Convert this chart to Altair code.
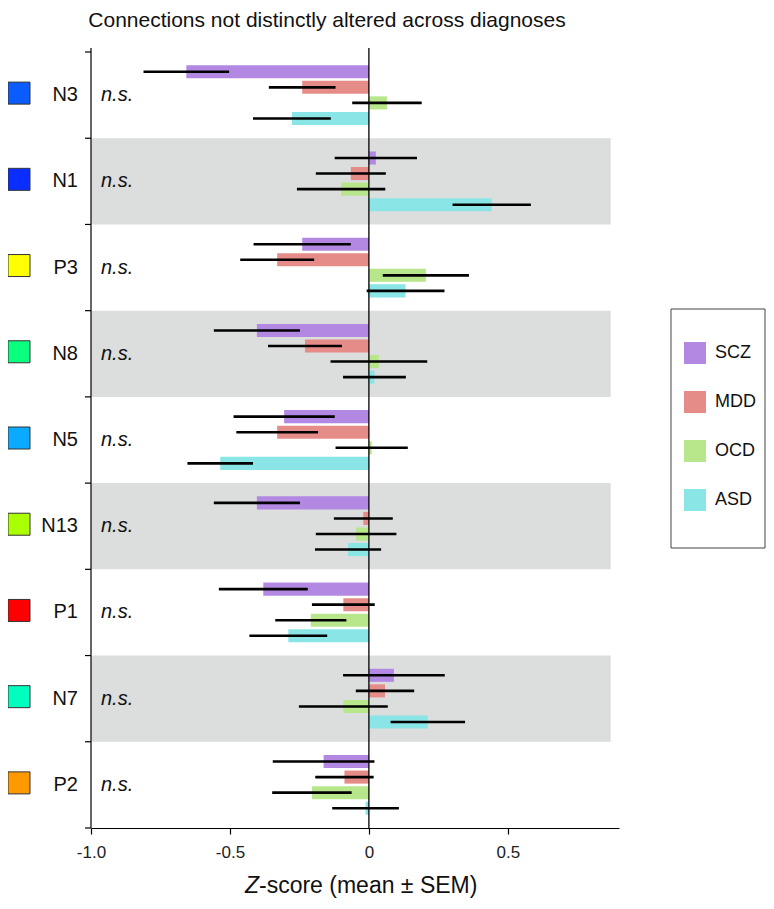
import altair as alt
import pandas as pd

# ---------------- data ----------------
groups = ["N3", "N1", "P3", "N8", "N5", "N13", "P1", "N7", "P2"]
group_colors = ["#0A5CFF", "#0A2EFF", "#FFFF00", "#0AFF80", "#0AAAFF",
                "#AAFF00", "#FF0000", "#00FFBF", "#FF9900"]
shaded = [False, True, False, True, False, True, False, True, False]
sig_labels = ["n.s."] * 9

diags = ["SCZ", "MDD", "OCD", "ASD"]
diag_colors = ["#B388E3", "#E68C88", "#B8E68A", "#8AE6E6"]

scz_mean = [-0.657, 0.025, -0.240, -0.403, -0.305, -0.403, -0.380, 0.090, -0.163]
mdd_mean = [-0.240, -0.065, -0.330, -0.230, -0.330, -0.020, -0.092, 0.058, -0.088]
ocd_mean = [0.065, -0.100, 0.205, 0.036, 0.010, -0.046, -0.209, -0.092, -0.205]
asd_mean = [-0.277, 0.442, 0.132, 0.020, -0.535, -0.075, -0.290, 0.212, -0.012]

scz_sem = [0.154, 0.148, 0.175, 0.155, 0.182, 0.155, 0.160, 0.183, 0.183]
mdd_sem = [0.120, 0.126, 0.133, 0.133, 0.147, 0.106, 0.113, 0.105, 0.105]
ocd_sem = [0.125, 0.159, 0.155, 0.174, 0.130, 0.145, 0.128, 0.160, 0.143]
asd_sem = [0.140, 0.141, 0.140, 0.113, 0.118, 0.119, 0.140, 0.134, 0.120]

x_ticks = [-1.0, -0.5, 0.0, 0.5]

# ---------------- tables ----------------
means = {"SCZ": scz_mean, "MDD": mdd_mean, "OCD": ocd_mean, "ASD": asd_mean}
sems = {"SCZ": scz_sem, "MDD": mdd_sem, "OCD": ocd_sem, "ASD": asd_sem}
rows = []
for d in diags:
    for g, m, s in zip(groups, means[d], sems[d]):
        rows.append({"group": g, "diag": d, "mean": m, "sem": s})
df = pd.DataFrame(rows)
gdf = pd.DataFrame({"group": groups, "gcolor": group_colors,
                    "shaded": shaded, "sig": sig_labels})
one = pd.DataFrame({"z": [0]})

W, H = 528, 776
FONT = "Liberation Sans"

xsc = alt.Scale(domain=[-1.0, 0.9], nice=False, zero=False)
ysc = alt.Scale(domain=groups, paddingInner=0, paddingOuter=0)
yenc = alt.Y("group:N", sort=groups, scale=ysc, axis=None)
yoff = alt.YOffset("diag:N", sort=diags,
                   scale=alt.Scale(domain=diags, paddingInner=0.16, paddingOuter=0.85))

bands = alt.Chart(gdf).transform_filter("datum.shaded").mark_rect(
    color="#DCDDDD").encode(
    y=yenc,
    x=alt.X(datum=-1.0, type="quantitative", scale=xsc),
    x2=alt.datum(0.87),
)

bars = alt.Chart(df).mark_bar().encode(
    y=yenc,
    yOffset=yoff,
    x=alt.X("mean:Q", scale=xsc,
            axis=alt.Axis(values=x_ticks, title=None, grid=False,
                          labelExpr="datum.value == 0 ? '0' : (datum.value < 0 ? '-' + format(-datum.value, '.1f') : format(datum.value, '.1f'))",
                          tickSize=6, tickColor="black", domainColor="black",
                          domainWidth=1.2, tickWidth=1.2, labelFlush=False,
                          labelFont=FONT, labelFontSize=17, labelColor="#222",
                          labelPadding=10)),
    x2=alt.datum(0),
    color=alt.Color("diag:N", sort=diags,
                    scale=alt.Scale(domain=diags, range=diag_colors),
                    legend=alt.Legend(orient="none", legendX=593, legendY=290,
                                      title=None, symbolType="square",
                                      symbolSize=484, symbolStrokeWidth=0,
                                      symbolOpacity=1,
                                      labelFont=FONT, labelFontSize=18,
                                      labelColor="#111", labelOffset=9,
                                      rowPadding=27, padding=0)),
)

errs = alt.Chart(df).transform_calculate(
    lo="datum.mean - datum.sem", hi="datum.mean + datum.sem"
).mark_rule(color="black", strokeWidth=2.6).encode(
    y=yenc, yOffset=yoff, x=alt.X("lo:Q", scale=xsc), x2="hi:Q"
)

zero_line = alt.Chart(one).mark_rule(color="black", strokeWidth=1.3).encode(
    x=alt.X(datum=0, type="quantitative", scale=xsc),
    y=alt.value(-4), y2=alt.value(H),
)

y_axis_line = alt.Chart(one).mark_rule(color="black", strokeWidth=1.2).encode(
    x=alt.value(0), y=alt.value(-4), y2=alt.value(H),
)

y_ticks = alt.Chart(gdf).mark_rule(color="black", strokeWidth=1.2).encode(
    x=alt.value(-6), x2=alt.value(0),
    y=alt.Y("group:N", sort=groups, scale=ysc, axis=None, bandPosition=0),
)
bottom_tick = alt.Chart(one).mark_rule(color="black", strokeWidth=1.2).encode(
    x=alt.value(-6), x2=alt.value(0), y=alt.value(H),
)

y_labels = alt.Chart(gdf).mark_text(
    align="right", baseline="middle", font=FONT, fontSize=20, color="#111"
).encode(y=yenc, x=alt.value(-13), text="group:N")

swatches = alt.Chart(gdf).mark_square(
    size=484, opacity=1, stroke="#333", strokeWidth=1, yOffset=-2
).encode(
    y=yenc, x=alt.value(-72),
    fill=alt.Fill("gcolor:N", scale=None),
)

ns_text = alt.Chart(gdf).mark_text(
    align="left", baseline="middle", font=FONT, fontSize=20,
    fontStyle="italic", color="#111"
).encode(y=yenc, x=alt.value(10), text="sig:N")

legend_box = alt.Chart(one).mark_rect(
    filled=False, stroke="#444", strokeWidth=1
).encode(
    x=alt.value(580), x2=alt.value(674), y=alt.value(257), y2=alt.value(496)
)

title_text = alt.Chart(one).mark_text(
    align="center", baseline="middle", font=FONT, fontSize=21, color="#111"
).encode(x=alt.value(236), y=alt.value(-31),
         text=alt.value("Connections not distinctly altered across diagnoses"))

xt_z = alt.Chart(one).mark_text(
    align="right", baseline="middle", font=FONT, fontSize=23,
    fontStyle="italic", color="#111"
).encode(x=alt.value(168), y=alt.value(834), text=alt.value("Z"))

xt_rest = alt.Chart(one).mark_text(
    align="left", baseline="middle", font=FONT, fontSize=23, color="#111"
).encode(x=alt.value(168), y=alt.value(834),
         text=alt.value("-score (mean \u00b1 SEM)"))

chart = alt.layer(
    bands, bars, errs, zero_line, y_axis_line, y_ticks, bottom_tick,
    y_labels, swatches, ns_text, legend_box, title_text, xt_z, xt_rest
).properties(
    width=W, height=H,
    autosize=alt.AutoSizeParams(type="none"),
    padding={"left": 83, "top": 44, "right": 147, "bottom": 73},
    view=alt.ViewBackground(stroke="transparent", strokeOpacity=0, strokeWidth=0),
).configure_view(stroke="transparent", strokeOpacity=0, strokeWidth=0).configure(background="white")

chart.save("out.html", embed_options={"renderer": "svg", "actions": False})
